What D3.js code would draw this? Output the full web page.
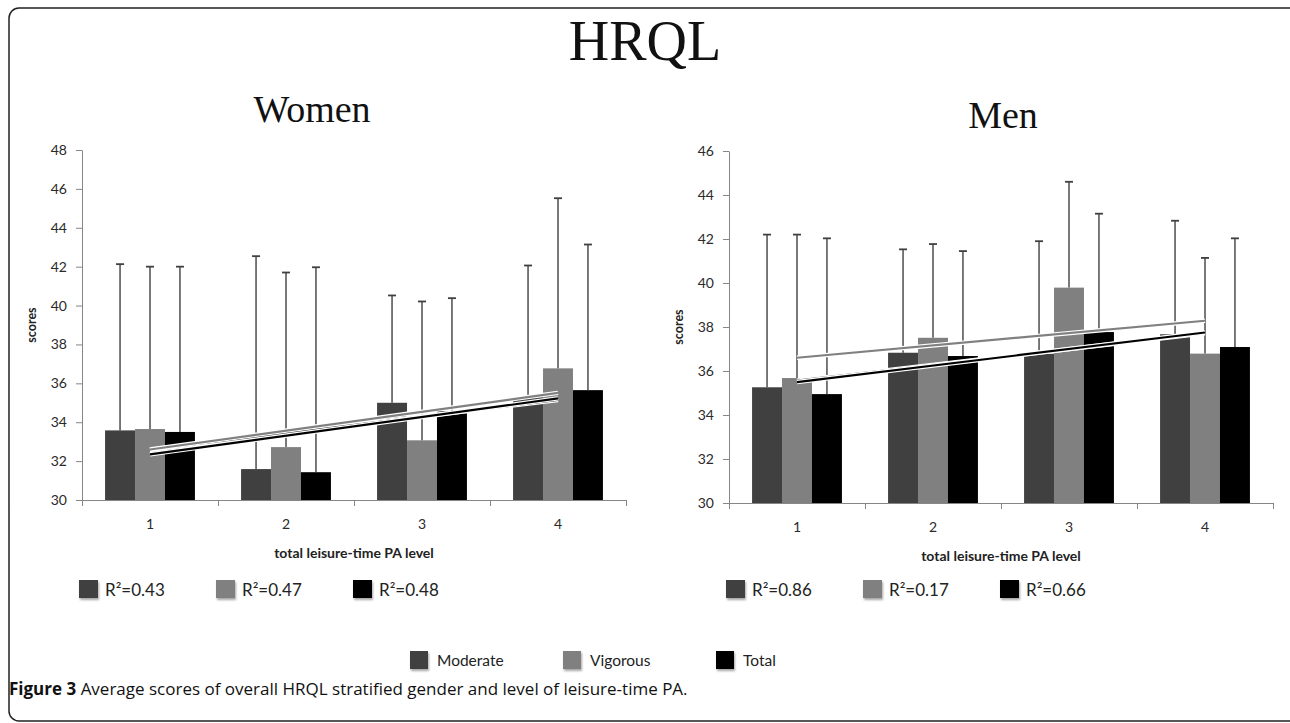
<!DOCTYPE html>
<html>
<head>
<meta charset="utf-8">
<script src="https://cdn.jsdelivr.net/npm/d3@7"></script>
<style>
body { margin: 0; background: #fff; }
svg { display: block; }
</style>
</head>
<body>
<div id="chart-area"></div>
<script>
// data
var levels = ["1", "2", "3", "4"];
var series = ["Moderate", "Vigorous", "Total"];
var colors = ["#404040", "#808080", "#000000"];
var yTicksWomen = [30, 32, 34, 36, 38, 40, 42, 44, 46, 48];
var yTicksMen = [30, 32, 34, 36, 38, 40, 42, 44, 46];

var womenModerate = [33.58, 31.59, 35.00, 35.29];
var womenVigorous = [33.65, 32.72, 33.07, 36.77];
var womenTotal = [33.50, 31.43, 34.57, 35.65];
var womenModerateSd = [8.55, 10.95, 5.52, 6.77];
var womenVigorousSd = [8.35, 8.98, 7.14, 8.75];
var womenTotalSd = [8.50, 10.54, 5.81, 7.49];
var womenR2 = [0.43, 0.47, 0.48];

var menModerate = [35.26, 36.83, 36.79, 37.67];
var menVigorous = [35.68, 37.51, 39.79, 36.79];
var menTotal = [34.95, 36.68, 37.77, 37.09];
var menModerateSd = [6.94, 4.70, 5.11, 5.16];
var menVigorousSd = [6.52, 4.26, 4.81, 4.35];
var menTotalSd = [7.08, 4.77, 5.38, 4.94];
var menR2 = [0.86, 0.17, 0.66];

var W = 1290, H = 723;
var sans = "Lato, 'Open Sans', sans-serif";
var serif = "'Liberation Serif', 'DejaVu Serif', serif";

var svg = d3.select("#chart-area").append("svg").attr("width", W).attr("height", H);

var defs = svg.append("defs");
var shadow = defs.append("filter").attr("id", "shadow").attr("x", "-30%").attr("y", "-30%").attr("width", "160%").attr("height", "170%");
shadow.append("feDropShadow").attr("dx", 1).attr("dy", 2).attr("stdDeviation", 1.2).attr("flood-color", "#000").attr("flood-opacity", 0.35);

// frame
svg.append("rect").attr("x", 9).attr("y", 8).attr("width", 1300).attr("height", 713).attr("rx", 10)
	.attr("fill", "none").attr("stroke", "#222").attr("stroke-width", 1.5);

svg.append("text").attr("x", 645).attr("y", 60).attr("text-anchor", "middle")
	.attr("font-family", serif).attr("font-size", "56px").attr("fill", "#111").text("HRQL");

function drawPanel(cfg) {
	var w = cfg.width, h = cfg.height;
	var g = svg.append("g").attr("transform", "translate(" + cfg.left + "," + cfg.top + ")");

	var x0 = d3.scaleBand().domain(levels).range([0, w]);
	var x1 = d3.scaleBand().domain(series).range([0, x0.bandwidth()]).paddingOuter(0.77);
	var y = d3.scaleLinear().domain([30, d3.max(cfg.ticks)]).range([h, 0]);
	var edges = d3.scaleLinear().domain([0, levels.length]).range([0, w]);

	svg.append("text").attr("x", cfg.titleX).attr("y", cfg.titleY).attr("text-anchor", "middle")
		.attr("font-family", serif).attr("font-size", "38px").attr("fill", "#111").text(cfg.title);

	var yAxis = d3.axisLeft(y).tickValues(cfg.ticks).tickSize(6).tickSizeOuter(0).tickPadding(9);
	var yg = g.append("g").call(yAxis);
	yg.select(".domain").attr("stroke", "#868686");
	yg.selectAll(".tick line").attr("stroke", "#868686");
	yg.selectAll("text").attr("font-family", sans).attr("font-size", "14px").attr("fill", "#2a2a2a");

	var xg = g.append("g").attr("transform", "translate(0," + h + ")")
		.call(d3.axisBottom(edges).tickValues(d3.range(0, levels.length + 1)).tickFormat("").tickSize(6).tickSizeOuter(0));
	xg.select(".domain").attr("stroke", "#868686");
	xg.selectAll(".tick line").attr("stroke", "#868686");

	var xl = g.append("g").attr("transform", "translate(0," + h + ")")
		.call(d3.axisBottom(x0).tickSize(0).tickPadding(19));
	xl.select(".domain").remove();
	xl.selectAll("text").attr("font-family", sans).attr("font-size", "14px").attr("fill", "#2a2a2a");

	g.append("text").attr("x", w / 2).attr("y", h + 58).attr("text-anchor", "middle")
		.attr("font-family", sans).attr("font-weight", "bold").attr("font-size", "14px").attr("fill", "#222")
		.text("total leisure-time PA level");
	g.append("text").attr("transform", "translate(" + (-46) + "," + (h / 2) + ") rotate(-90)")
		.attr("text-anchor", "middle").attr("font-family", sans).attr("font-weight", "bold")
		.attr("font-size", "12.5px").attr("fill", "#222").text("scores");

	var rows = series.map(function(s, i) {
		return levels.map(function(l, j) {
			return {series: s, level: l, value: cfg.means[i][j], sd: cfg.sds[i][j], color: colors[i]};
		});
	});
	var flat = [].concat.apply([], rows);

	g.selectAll("rect.bar").data(flat).enter().append("rect").attr("class", "bar")
		.attr("x", function(d) { return x0(d.level) + x1(d.series); })
		.attr("y", function(d) { return y(d.value); })
		.attr("width", x1.bandwidth())
		.attr("height", function(d) { return h - y(d.value); })
		.attr("fill", function(d) { return d.color; });

	var eb = g.selectAll("g.err").data(flat).enter().append("g").attr("class", "err");
	eb.append("line")
		.attr("x1", function(d) { return x0(d.level) + x1(d.series) + x1.bandwidth() / 2; })
		.attr("x2", function(d) { return x0(d.level) + x1(d.series) + x1.bandwidth() / 2; })
		.attr("y1", function(d) { return y(d.value); })
		.attr("y2", function(d) { return y(d.value + d.sd); })
		.attr("stroke", "#404040").attr("stroke-width", 1.4);
	eb.append("line")
		.attr("x1", function(d) { return x0(d.level) + x1(d.series) + x1.bandwidth() / 2 - 4; })
		.attr("x2", function(d) { return x0(d.level) + x1(d.series) + x1.bandwidth() / 2 + 4; })
		.attr("y1", function(d) { return y(d.value + d.sd); })
		.attr("y2", function(d) { return y(d.value + d.sd); })
		.attr("stroke", "#404040").attr("stroke-width", 1.8);

	// linear trendlines fitted to each series
	rows.forEach(function(r, i) {
		var xs = r.map(function(d, j) { return j + 1; });
		var mx = d3.mean(xs), my = d3.mean(r, function(d) { return d.value; });
		var b = d3.sum(r, function(d, j) { return (xs[j] - mx) * (d.value - my); }) /
			d3.sum(xs, function(v) { return (v - mx) * (v - mx); });
		var a = my - b * mx;
		var ends = [1, levels.length].map(function(v) {
			return [x0(levels[v - 1]) + x0.bandwidth() / 2, y(a + b * v)];
		});
		g.append("path").attr("d", d3.line()(ends)).attr("stroke", "#fff").attr("stroke-width", 4.5).attr("fill", "none");
		g.append("path").attr("d", d3.line()(ends)).attr("stroke", colors[i]).attr("stroke-width", 2.2).attr("fill", "none");
	});

	// R2 legend row
	var leg = g.append("g").attr("transform", "translate(0," + cfg.legendY + ")");
	cfg.r2.forEach(function(r, i) {
		var item = leg.append("g").attr("transform", "translate(" + (-3 + i * 137) + ",0)");
		item.append("rect").attr("width", 19).attr("height", 18).attr("fill", colors[i]).attr("filter", "url(#shadow)");
		item.append("text").attr("x", 26).attr("y", 16).attr("font-family", sans).attr("font-size", "17px")
			.attr("fill", "#222").text("R\u00B2=" + r.toFixed(2));
	});
}

drawPanel({title: "Women", titleX: 312, titleY: 122, left: 82, top: 150, width: 544, height: 350, ticks: yTicksWomen,
	means: [womenModerate, womenVigorous, womenTotal], sds: [womenModerateSd, womenVigorousSd, womenTotalSd],
	r2: womenR2, legendY: 430});
drawPanel({title: "Men", titleX: 1003, titleY: 128, left: 729, top: 151, width: 544, height: 352, ticks: yTicksMen,
	means: [menModerate, menVigorous, menTotal], sds: [menModerateSd, menVigorousSd, menTotalSd],
	r2: menR2, legendY: 429});

// bottom legend
var legend = svg.append("g").attr("transform", "translate(410,651)");
series.forEach(function(s, i) {
	var item = legend.append("g").attr("transform", "translate(" + (i * 153) + ",0)");
	item.append("rect").attr("width", 18).attr("height", 18).attr("fill", colors[i]).attr("filter", "url(#shadow)");
	item.append("text").attr("x", 27).attr("y", 15).attr("font-family", sans).attr("font-size", "15.5px")
		.attr("fill", "#222").text(s);
});

var cap = svg.append("text").attr("x", 9).attr("y", 695).attr("font-family", "'Open Sans', sans-serif")
	.attr("font-size", "17px").attr("fill", "#111");
cap.append("tspan").attr("font-weight", "bold").text("Figure 3 ");
cap.append("tspan").text("Average scores of overall HRQL stratified gender and level of leisure-time PA.");
</script>
</body>
</html>
